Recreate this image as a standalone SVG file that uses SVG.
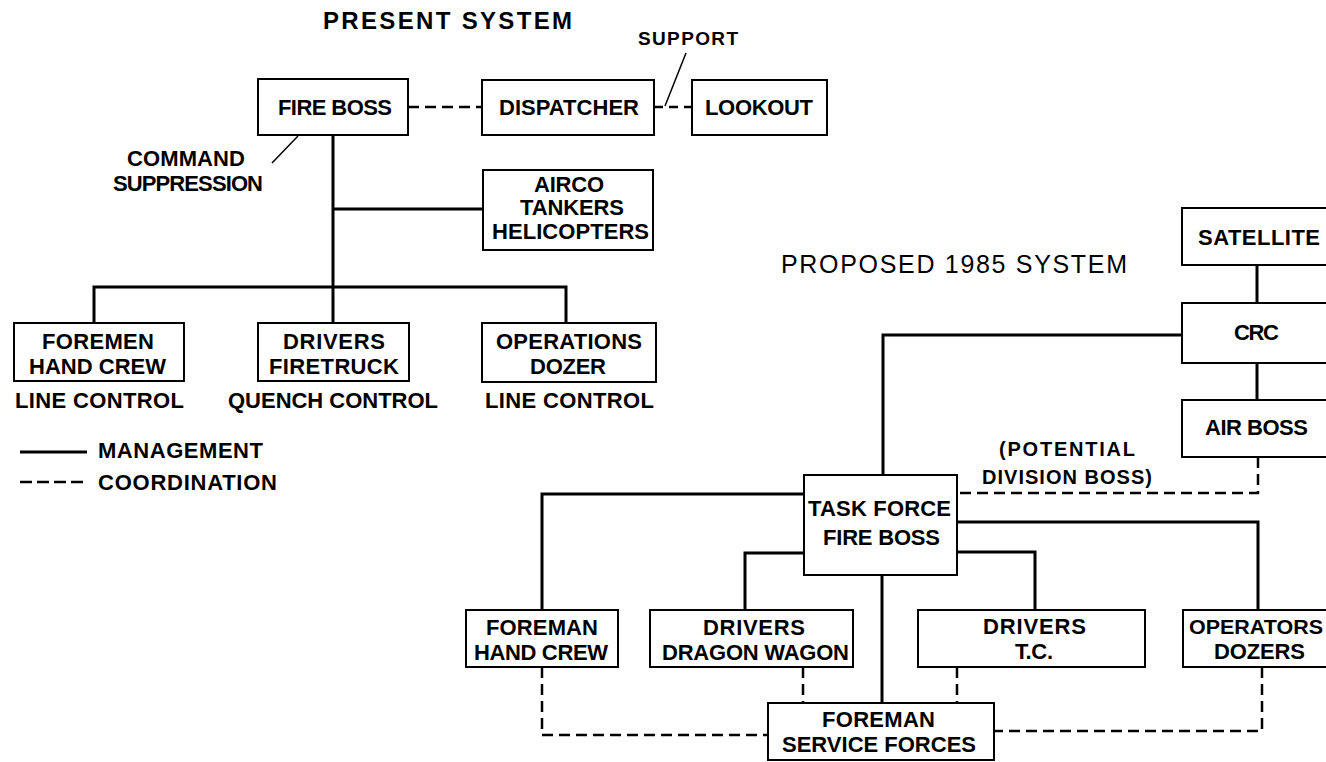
<svg xmlns="http://www.w3.org/2000/svg" width="1326" height="762" viewBox="0 0 1326 762">
<style>
.bg{fill:#fff}
.box{fill:#fff;stroke:#000;stroke-width:2}
.t{font-family:"Liberation Sans",Arial,sans-serif;font-weight:bold;font-size:22px;fill:#000}
.m{fill:none;stroke:#000;stroke-width:3;stroke-linejoin:miter}
.c{fill:none;stroke:#000;stroke-width:2.5;stroke-dasharray:11 6}
.lead{fill:none;stroke:#000;stroke-width:1.5}
</style>
<rect class="bg" x="0" y="0" width="1326" height="762"/>
<g id="connectors">
<path class="c" d="M408 107 H482"/>
<path class="c" d="M654 107 H692" style="stroke-dasharray:9 6"/>
<path class="lead" d="M686 53 L665 106"/>
<path class="lead" d="M298 136 L272 163"/>
<path class="m" d="M333 135 V323"/>
<path class="m" d="M333 209 H483"/>
<path class="m" d="M94 323 V287 H566 V323"/>
<path class="m" d="M20 452 H87"/>
<path class="c" d="M20 482 H87" style="stroke-dasharray:12 5"/>
<path class="m" d="M1257 265 V303"/>
<path class="m" d="M1257 363 V400"/>
<path class="m" d="M1182 335 H883 V475"/>
<path class="c" d="M1258 457 V493 H957"/>
<path class="m" d="M804 494 H542 V610"/>
<path class="m" d="M957 522 H1258 V610"/>
<path class="m" d="M804 553 H745 V610"/>
<path class="m" d="M957 552 H1035 V610"/>
<path class="m" d="M882 575 V703"/>
<path class="c" d="M542 667 V735 H768"/>
<path class="c" d="M803 667 V703"/>
<path class="c" d="M957 667 V703"/>
<path class="c" d="M1262 667 V731 H994"/>
</g>
<g id="titles">
<text class="t" x="323" y="29" style="font-size:24px" textLength="249" lengthAdjust="spacing">PRESENT SYSTEM</text>
<text class="t" x="781" y="273" style="font-weight:normal;font-size:25px" textLength="346" lengthAdjust="spacing">PROPOSED 1985 SYSTEM</text>
<text class="t" x="638" y="45" style="font-size:19px" textLength="100" lengthAdjust="spacing">SUPPORT</text>
<text class="t" x="127" y="166" textLength="118" lengthAdjust="spacing">COMMAND</text>
<text class="t" x="113" y="191" textLength="150" lengthAdjust="spacing">SUPPRESSION</text>
<text class="t" x="15" y="408" textLength="169" lengthAdjust="spacing">LINE CONTROL</text>
<text class="t" x="228" y="408" textLength="210" lengthAdjust="spacing">QUENCH CONTROL</text>
<text class="t" x="485" y="408" textLength="169" lengthAdjust="spacing">LINE CONTROL</text>
<text class="t" x="98" y="458" textLength="165" lengthAdjust="spacing">MANAGEMENT</text>
<text class="t" x="98" y="490" textLength="179" lengthAdjust="spacing">COORDINATION</text>
<text class="t" x="999" y="456" style="font-size:20px" textLength="136" lengthAdjust="spacing">(POTENTIAL</text>
<text class="t" x="982" y="484" style="font-size:20px" textLength="170" lengthAdjust="spacing">DIVISION BOSS)</text>
</g>
<g id="fire-boss">
<rect class="box" x="258" y="79" width="150" height="56"/>
<text class="t" x="278" y="115" textLength="114" lengthAdjust="spacing">FIRE BOSS</text>
</g>
<g id="dispatcher">
<rect class="box" x="482" y="80" width="172" height="55"/>
<text class="t" x="499" y="115" textLength="140" lengthAdjust="spacing">DISPATCHER</text>
</g>
<g id="lookout">
<rect class="box" x="692" y="80" width="135" height="55"/>
<text class="t" x="705" y="115" textLength="108" lengthAdjust="spacing">LOOKOUT</text>
</g>
<g id="airco">
<rect class="box" x="483" y="170" width="170" height="80"/>
<text class="t" x="534" y="192" textLength="70" lengthAdjust="spacing">AIRCO</text>
<text class="t" x="520" y="215" textLength="104" lengthAdjust="spacing">TANKERS</text>
<text class="t" x="492" y="239" textLength="157" lengthAdjust="spacing">HELICOPTERS</text>
</g>
<g id="foremen">
<rect class="box" x="14" y="323" width="170" height="58"/>
<text class="t" x="42" y="349" textLength="112" lengthAdjust="spacing">FOREMEN</text>
<text class="t" x="29" y="374" textLength="137" lengthAdjust="spacing">HAND CREW</text>
</g>
<g id="drivers-firetruck">
<rect class="box" x="258" y="323" width="151" height="58"/>
<text class="t" x="283" y="349" textLength="102" lengthAdjust="spacing">DRIVERS</text>
<text class="t" x="269" y="374" textLength="130" lengthAdjust="spacing">FIRETRUCK</text>
</g>
<g id="operations">
<rect class="box" x="482" y="323" width="174" height="59"/>
<text class="t" x="496" y="349" textLength="146" lengthAdjust="spacing">OPERATIONS</text>
<text class="t" x="530" y="374" textLength="76" lengthAdjust="spacing">DOZER</text>
</g>
<g id="satellite">
<rect class="box" x="1182" y="208" width="160" height="57"/>
<text class="t" x="1198" y="245" textLength="122" lengthAdjust="spacing">SATELLITE</text>
</g>
<g id="crc">
<rect class="box" x="1182" y="303" width="160" height="60"/>
<text class="t" x="1234" y="340" textLength="45" lengthAdjust="spacing">CRC</text>
</g>
<g id="air-boss">
<rect class="box" x="1182" y="400" width="160" height="57"/>
<text class="t" x="1205" y="435" textLength="103" lengthAdjust="spacing">AIR BOSS</text>
</g>
<g id="task-force">
<rect class="box" x="804" y="475" width="153" height="100"/>
<text class="t" x="808" y="516" textLength="143" lengthAdjust="spacing">TASK FORCE</text>
<text class="t" x="823" y="545" textLength="117" lengthAdjust="spacing">FIRE BOSS</text>
</g>
<g id="foreman-hand-crew">
<rect class="box" x="466" y="610" width="152" height="57"/>
<text class="t" x="486" y="635" textLength="112" lengthAdjust="spacing">FOREMAN</text>
<text class="t" x="474" y="660" textLength="134" lengthAdjust="spacing">HAND CREW</text>
</g>
<g id="drivers-dragon-wagon">
<rect class="box" x="650" y="610" width="203" height="57"/>
<text class="t" x="703" y="635" textLength="102" lengthAdjust="spacing">DRIVERS</text>
<text class="t" x="662" y="660" textLength="187" lengthAdjust="spacing">DRAGON WAGON</text>
</g>
<g id="drivers-tc">
<rect class="box" x="918" y="610" width="227" height="57"/>
<text class="t" x="983" y="634" textLength="103" lengthAdjust="spacing">DRIVERS</text>
<text class="t" x="1015" y="659" textLength="38" lengthAdjust="spacing">T.C.</text>
</g>
<g id="operators-dozers">
<rect class="box" x="1183" y="610" width="160" height="57"/>
<text class="t" x="1189" y="634" style="font-size:21px" textLength="134" lengthAdjust="spacingAndGlyphs">OPERATORS</text>
<text class="t" x="1214" y="659" textLength="91" lengthAdjust="spacing">DOZERS</text>
</g>
<g id="foreman-service-forces">
<rect class="box" x="768" y="703" width="226" height="57"/>
<text class="t" x="822" y="727" textLength="113" lengthAdjust="spacing">FOREMAN</text>
<text class="t" x="782" y="752" textLength="194" lengthAdjust="spacing">SERVICE FORCES</text>
</g>
</svg>
